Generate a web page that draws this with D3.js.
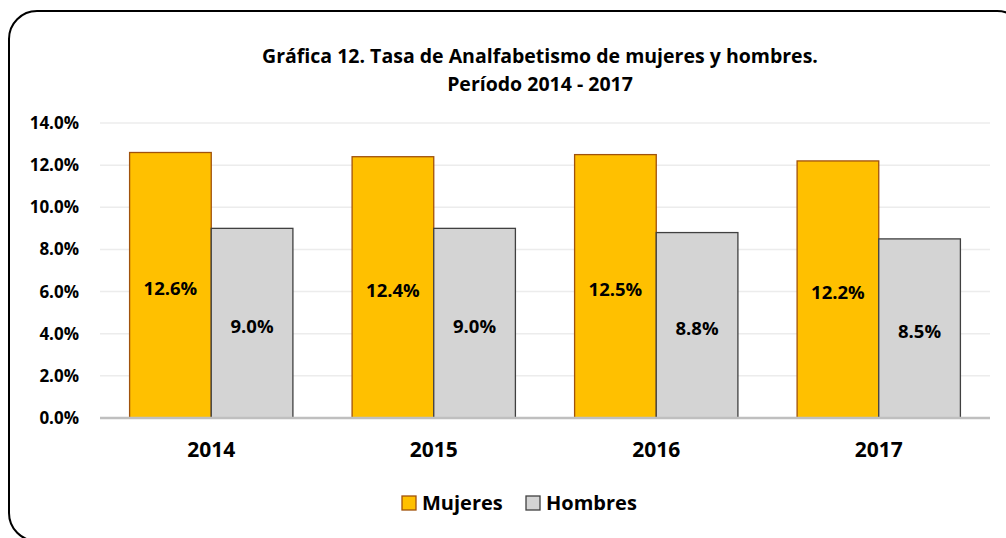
<!DOCTYPE html>
<html>
<head>
<meta charset="utf-8">
<script src="https://cdn.jsdelivr.net/npm/d3@7"></script>
<style>
  body { margin: 0; background: #fff; }
  svg { display: block; font-family: "Open Sans", sans-serif; font-weight: bold; }
</style>
</head>
<body>
<div id="chart"></div>
<script>
// data
var years = ["2014", "2015", "2016", "2017"];
var mujeres = [12.6, 12.4, 12.5, 12.2];
var hombres = [9.0, 9.0, 8.8, 8.5];
var seriesNames = ["Mujeres", "Hombres"];
var yTicks = [0, 2, 4, 6, 8, 10, 12, 14];

var svgWidth = 1006;
var svgHeight = 538;

var margin = { top: 123, right: 16, bottom: 120, left: 100 };
var width = 990 - margin.left;
var height = 418 - margin.top;

var colors = { Mujeres: "#ffc000", Hombres: "#d4d4d4" };
var strokes = { Mujeres: "#a0520c", Hombres: "#404040" };

var svg = d3.select("#chart").append("svg")
  .attr("width", svgWidth)
  .attr("height", svgHeight);

// rounded frame (partly outside the picture)
svg.append("rect")
  .attr("x", 9).attr("y", 11)
  .attr("width", 1016).attr("height", 530)
  .attr("rx", 28).attr("ry", 28)
  .attr("fill", "none")
  .attr("stroke", "#000")
  .attr("stroke-width", 2);

// title
var title = svg.append("text")
  .attr("text-anchor", "middle")
  .attr("font-size", 19.5)
  .attr("fill", "#000");
title.append("tspan").attr("x", 540).attr("y", 63)
  .text("Gráfica 12. Tasa de Analfabetismo de mujeres y hombres.");
title.append("tspan").attr("x", 540).attr("y", 91)
  .text("Período 2014 - 2017");

var chartGroup = svg.append("g")
  .attr("transform", `translate(${margin.left}, ${margin.top})`);

var x0 = d3.scaleBand().domain(years).range([0, width]).paddingInner(0.266).paddingOuter(0.133);
var x1 = d3.scaleBand().domain(seriesNames).range([0, x0.bandwidth()]);
var y = d3.scaleLinear().domain([0, 14]).range([height, 0]);

// gridlines
chartGroup.append("g")
  .selectAll("line")
  .data(yTicks.slice(1))
  .enter()
  .append("line")
  .attr("x1", 0).attr("x2", width)
  .attr("y1", (d) => y(d)).attr("y2", (d) => y(d))
  .attr("stroke", "#ececec")
  .attr("stroke-width", 1.5);

// y axis labels
var leftAxis = d3.axisLeft(y).tickValues(yTicks).tickSize(0).tickPadding(21)
  .tickFormat((d) => d.toFixed(1) + "%");
var yAxis = chartGroup.append("g").call(leftAxis);
yAxis.select(".domain").remove();
yAxis.selectAll("text").attr("font-size", 17).attr("fill", "#000")
  .attr("font-family", "Open Sans, sans-serif").attr("font-weight", "bold");

// rows of data
var rows = years.map((yr, i) => ({ year: yr, Mujeres: mujeres[i], Hombres: hombres[i] }));

var groups = chartGroup.selectAll(".year")
  .data(rows)
  .enter()
  .append("g")
  .attr("transform", (d) => `translate(${x0(d.year)},0)`);

var bars = groups.selectAll("g.bar")
  .data((d) => seriesNames.map((k) => ({ key: k, value: d[k] })))
  .enter()
  .append("g");

bars.append("rect")
  .attr("x", (d) => x1(d.key))
  .attr("y", (d) => y(d.value))
  .attr("width", x1.bandwidth())
  .attr("height", (d) => y(0) - y(d.value))
  .attr("fill", (d) => colors[d.key])
  .attr("stroke", (d) => strokes[d.key])
  .attr("stroke-width", 1.3);

bars.append("text")
  .attr("x", (d) => x1(d.key) + x1.bandwidth() / 2)
  .attr("y", (d) => y(d.value / 2))
  .attr("dy", "0.52em")
  .attr("text-anchor", "middle")
  .attr("font-size", 18.5)
  .attr("fill", "#000")
  .text((d) => d.value.toFixed(1) + "%");

// x axis baseline
chartGroup.append("line")
  .attr("x1", 0).attr("x2", width)
  .attr("y1", y(0)).attr("y2", y(0))
  .attr("stroke", "#bfbfbf")
  .attr("stroke-width", 2.5);

var bottomAxis = d3.axisBottom(x0).tickSize(0).tickPadding(24);
var xAxis = chartGroup.append("g")
  .attr("transform", `translate(0, ${height})`)
  .call(bottomAxis);
xAxis.select(".domain").remove();
xAxis.selectAll("text").attr("font-size", 21).attr("fill", "#000")
  .attr("font-family", "Open Sans, sans-serif").attr("font-weight", "bold");

// legend
var legendItems = [
  { key: "Mujeres", x: 402 },
  { key: "Hombres", x: 526 }
];
var legend = svg.append("g").attr("transform", "translate(0, 503)");
var item = legend.selectAll("g")
  .data(legendItems)
  .enter()
  .append("g")
  .attr("transform", (d) => `translate(${d.x},0)`);
item.append("rect")
  .attr("x", 0).attr("y", -7)
  .attr("width", 14).attr("height", 14)
  .attr("fill", (d) => colors[d.key])
  .attr("stroke", (d) => strokes[d.key])
  .attr("stroke-width", 1.3);
item.append("text")
  .attr("x", 20).attr("y", 0)
  .attr("dy", "0.35em")
  .attr("font-size", 20)
  .attr("fill", "#000")
  .text((d) => d.key);
</script>
</body>
</html>
